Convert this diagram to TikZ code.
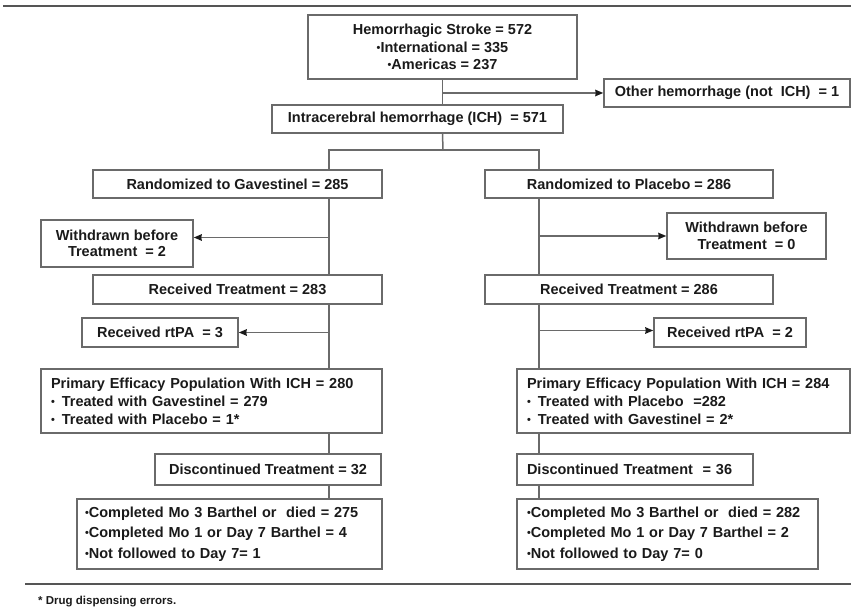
\documentclass[tikz,border=0pt]{standalone}
\usepackage{fontspec}
\setmainfont{Liberation Sans}
\usetikzlibrary{positioning,arrows.meta,calc}

\definecolor{linegray}{HTML}{6A6A6A}
\definecolor{rulegray}{HTML}{555555}
\definecolor{textgray}{HTML}{1A1A1A}

\newcommand{\dotbul}{\raisebox{0.12ex}{\scalebox{0.75}{•}}}

\begin{document}
\begin{tikzpicture}[
    x=1pt, y=-1pt,
    >={Stealth[length=8pt,width=6.5pt,inset=0.5pt,color=textgray]},
    every node/.style={font=\fontsize{14.5}{17.5}\selectfont\bfseries, text=textgray},
    box/.style={draw=linegray, line width=1.5pt, inner sep=0pt, align=center},
    listbox/.style={box, align=left, inner xsep=10pt},
    flowline/.style={draw=linegray, line width=1.5pt},
    flowarrow/.style={flowline, ->},
    rule/.style={draw=rulegray, line width=2pt},
]
\useasboundingbox (0,0) rectangle (851,609);

% ---- Screening ----
\node[box, minimum width=269, minimum height=64] (stroke) at (442.5,47) {Hemorrhagic Stroke = 572\\\dotbul International = 335\\\dotbul Americas = 237};
\node[box, minimum width=246, minimum height=28] (other) at (727,93) {Other hemorrhage (not\ \ ICH)\ \ = 1};
\node[box, minimum width=291, minimum height=28] (ich) at (417.5,119) {Intracerebral hemorrhage (ICH)\ \ = 571};

\draw[flowline] (stroke.south) -- (stroke.south |- ich.north);
\draw[flowarrow] (stroke.south |- other.west) -- (other.west);

% ---- Split into the two arms ----
\coordinate (split) at (443,150);
\coordinate (gavcol) at (329,150);
\coordinate (placcol) at (539,150);

\node[box, minimum width=289, minimum height=28] (randgav) at (237.5,184) {Randomized to Gavestinel = 285};
\node[box, minimum width=288, minimum height=28] (randplac) at (629,184) {Randomized to Placebo = 286};

\draw[flowline] (stroke.south |- ich.south) -- (split);
\draw[flowline] (gavcol |- randgav.north) -- (gavcol) -- (placcol) -- (placcol |- randplac.north);

% ---- Gavestinel arm ----
\node[box, minimum width=152, minimum height=47, font=\fontsize{14.5}{16.5}\selectfont\bfseries] (wdgav) at (117,243.5) {Withdrawn before\\Treatment\ \ = 2};
\node[box, minimum width=289, minimum height=29] (recgav) at (237.5,289.5) {Received Treatment = 283};
\node[box, minimum width=156, minimum height=29] (rtpagav) at (160,332.5) {Received rtPA\ \ = 3};
\node[listbox, text width=321, minimum height=64, font=\fontsize{14.5}{18}\selectfont\bfseries] (effgav) at (211.5,401) {Primary Efficacy Population With ICH = 280\\\dotbul\hspace{7pt}Treated with Gavestinel = 279\\\dotbul\hspace{7pt}Treated with Placebo = 1*};
\node[box, minimum width=226, minimum height=31] (discgav) at (268,469.5) {Discontinued Treatment = 32};
\node[listbox, inner xsep=8pt, text width=289, minimum height=70, font=\fontsize{14.5}{20.5}\selectfont\bfseries] (fugav) at (229.5,534) {\dotbul Completed Mo 3 Barthel or\ \ died = 275\\\dotbul Completed Mo 1 or Day 7 Barthel = 4\\\dotbul Not followed to Day 7= 1};

\draw[flowline] (gavcol |- randgav.south) -- (gavcol |- recgav.north);
\draw[flowarrow] ([yshift=6pt]gavcol |- wdgav.east) -- ([yshift=6pt]wdgav.east);
\draw[flowline] (gavcol |- recgav.south) -- (gavcol |- effgav.north);
\draw[flowarrow] (gavcol |- rtpagav.east) -- (rtpagav.east);
\draw[flowline] (gavcol |- effgav.south) -- (gavcol |- discgav.north);
\draw[flowline] (gavcol |- discgav.south) -- (gavcol |- fugav.north);

% ---- Placebo arm ----
\node[box, minimum width=159, minimum height=46, font=\fontsize{14.5}{16.5}\selectfont\bfseries] (wdplac) at (746.5,236) {Withdrawn before\\Treatment\ \ = 0};
\node[box, minimum width=288, minimum height=29] (recplac) at (629,289.5) {Received Treatment = 286};
\node[box, minimum width=152, minimum height=29] (rtpaplac) at (730,332.5) {Received rtPA\ \ = 2};
\node[listbox, text width=313, minimum height=64, font=\fontsize{14.5}{18}\selectfont\bfseries] (effplac) at (683.5,401) {Primary Efficacy Population With ICH = 284\\\dotbul\hspace{7pt}Treated with Placebo\ \ =282\\\dotbul\hspace{7pt}Treated with Gavestinel = 2*};
\node[listbox, text width=216, minimum height=31] (discplac) at (635,469.5) {Discontinued Treatment\ \ = 36};
\node[listbox, inner xsep=10pt, text width=281, minimum height=70, font=\fontsize{14.5}{20.5}\selectfont\bfseries] (fuplac) at (667.5,534) {\dotbul Completed Mo 3 Barthel or\ \ died = 282\\\dotbul Completed Mo 1 or Day 7 Barthel = 2\\\dotbul Not followed to Day 7= 0};

\draw[flowline] (placcol |- randplac.south) -- (placcol |- recplac.north);
\draw[flowarrow] (placcol |- wdplac.west) -- (wdplac.west);
\draw[flowline] (placcol |- recplac.south) -- (placcol |- effplac.north);
\draw[flowarrow] ([yshift=2pt]placcol |- rtpaplac.west) -- ([yshift=2pt]rtpaplac.west);
\draw[flowline] (placcol |- effplac.south) -- (placcol |- discplac.north);
\draw[flowline] (placcol |- discplac.south) -- (placcol |- fuplac.north);

% ---- Rules and footnote ----
\draw[rule] (3,6) -- (851,6);
\draw[rule] (25,584) -- (851,584);
\node[anchor=west, inner sep=0pt, font=\fontsize{11.5}{14}\selectfont\bfseries] (note) at (38,602) {* Drug dispensing errors.};

\end{tikzpicture}
\end{document}
